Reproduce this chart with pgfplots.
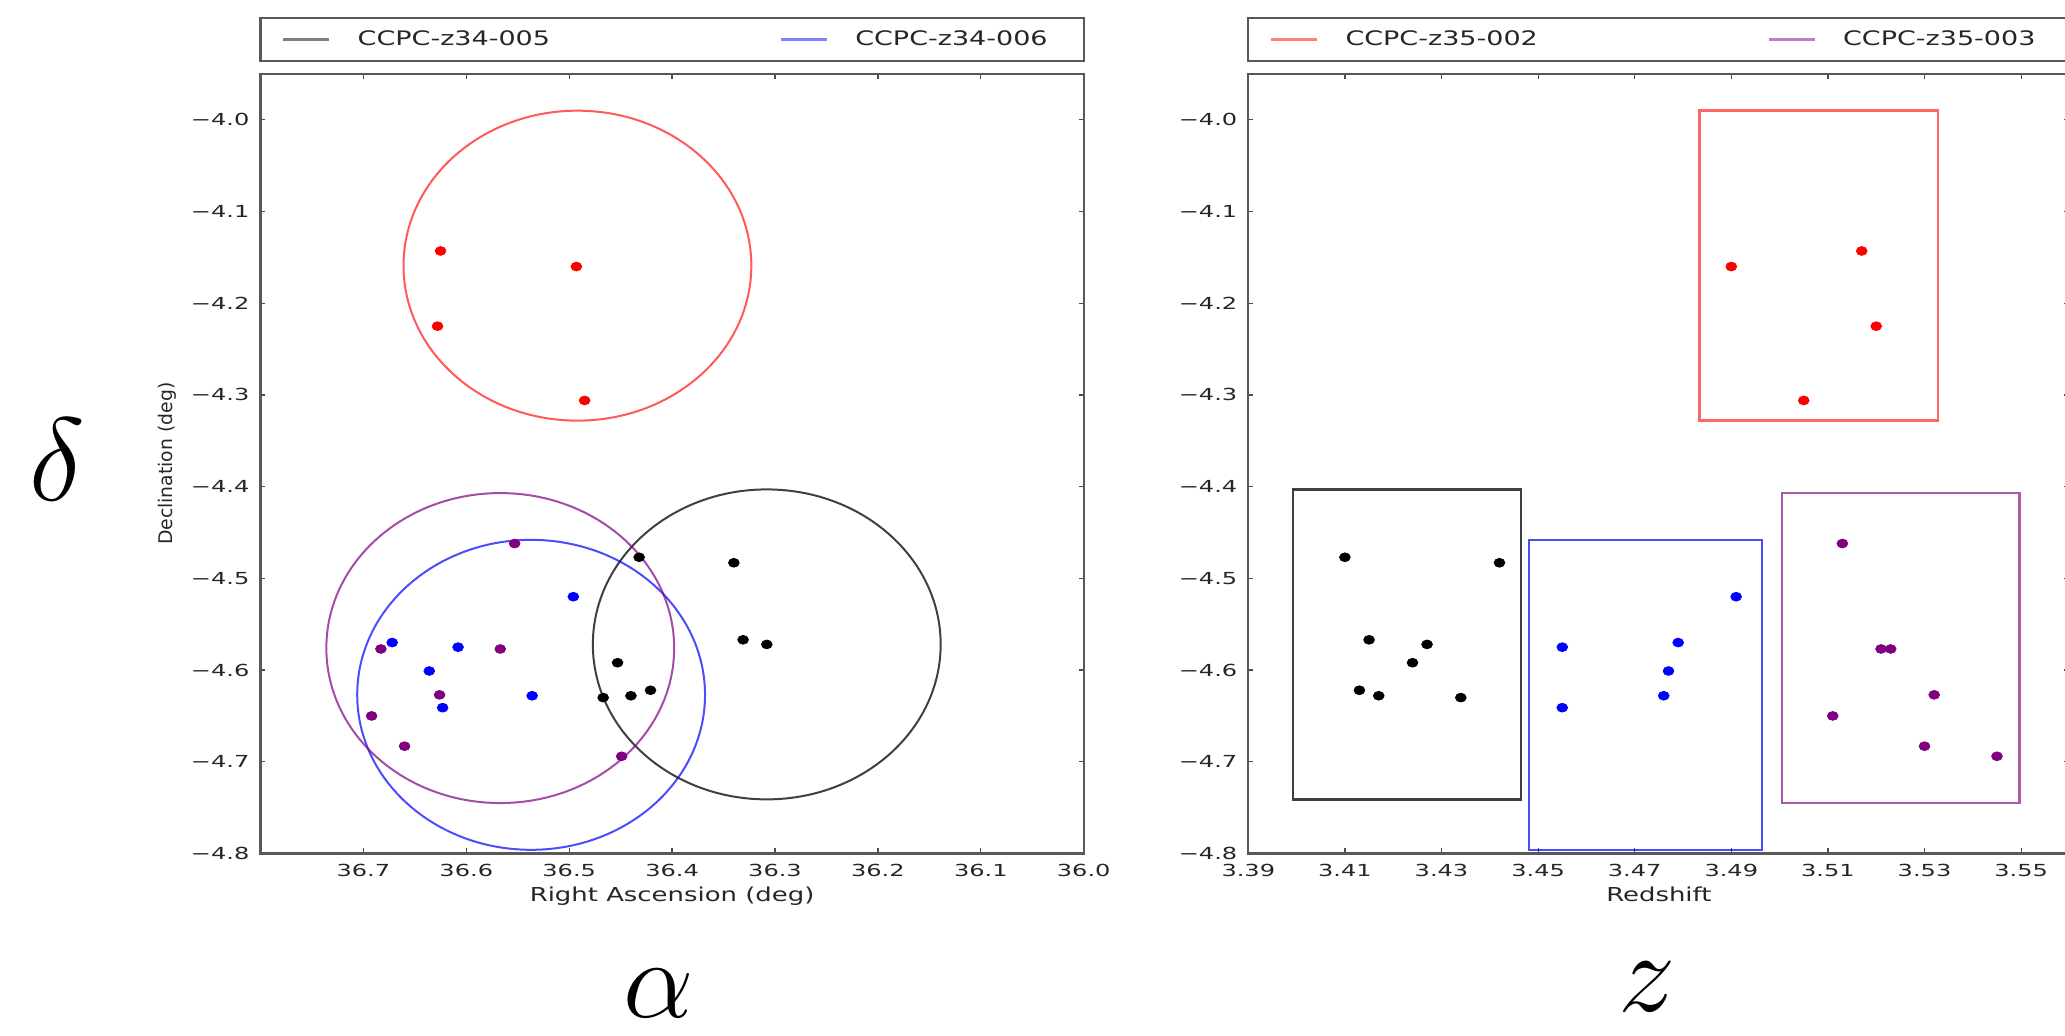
\documentclass[border=0pt]{standalone}
\usepackage{pgfplots}
\pgfplotsset{compat=1.18}
\usepackage{pgfplotstable}
\usepackage{fontspec}
\setmainfont{DejaVu Sans}[FakeStretch=1.35]
\newfontfamily\plainsans{DejaVu Sans}
\newfontfamily\tickfont{DejaVu Sans}[FakeStretch=1.45]

\definecolor{mblue}{RGB}{0,0,255}
\definecolor{mred}{RGB}{255,0,0}
\definecolor{mpurple}{RGB}{128,0,128}

% columns: right ascension, declination, redshift
\pgfplotstableread{
ra dec z
36.432 -4.477 3.410
36.340 -4.483 3.442
36.331 -4.567 3.415
36.308 -4.572 3.427
36.453 -4.592 3.424
36.421 -4.622 3.413
36.440 -4.628 3.417
36.467 -4.630 3.434
}\blackpts
\pgfplotstableread{
ra dec z
36.496 -4.520 3.491
36.672 -4.570 3.479
36.608 -4.575 3.455
36.636 -4.601 3.477
36.536 -4.628 3.476
36.623 -4.641 3.455
}\bluepts
\pgfplotstableread{
ra dec z
36.553 -4.462 3.513
36.683 -4.577 3.521
36.567 -4.577 3.523
36.626 -4.627 3.532
36.692 -4.650 3.511
36.660 -4.683 3.530
36.449 -4.694 3.545
}\purplepts
\pgfplotstableread{
ra dec z
36.625 -4.143 3.517
36.493 -4.160 3.490
36.628 -4.225 3.520
36.485 -4.306 3.505
}\redpts

\pgfplotsset{
  ccpc/.style={
    scale only axis, width=411.6pt, height=389.75pt,
    ymin=-4.8, ymax=-3.95,
    ytick={-4.8,-4.7,-4.6,-4.5,-4.4,-4.3,-4.2,-4.1,-4.0},
    yticklabels={−4.8,−4.7,−4.6,−4.5,−4.4,−4.3,−4.2,−4.1,−4.0},
    tick align=inside, major tick length=2.5pt,
    major tick style={black!70, line width=0.6pt},
    axis line style={black!65, line width=1.1pt},
    tick label style={font=\tickfont\fontsize{8.3}{10}\selectfont, text=black!85},
    xticklabel style={yshift=-2pt},
    yticklabel style={xshift=-2pt},
    xlabel style={font=\fontsize{9.6}{11}\selectfont, text=black!85,
      at={(axis description cs:0.5,0)}, anchor=base, yshift=-24.25pt},
    legend columns=2,
    legend style={draw=none, fill=none, at={(axis description cs:0,1.0443)},
      anchor=west, inner xsep=10.5pt, inner ysep=0pt,
      font=\fontsize{10}{12}\selectfont, text=black!85,
      nodes={inner sep=0pt}, cells={anchor=west},
      /tikz/every odd column/.append style={column sep=13.5pt},
      /tikz/every even column/.append style={column sep=114.7pt}},
    legend image code/.code={\draw[#1] (0pt,0pt) -- (23pt,0pt);},
  },
  pts/.style={only marks, mark=*, mark size=2.2pt, mark options={xscale=1.22}, forget plot},
}

\begin{document}
\begin{tikzpicture}
% ---------------- left panel: sky positions ----------------
\begin{axis}[ccpc, name=axL, at={(130.25pt,91.25pt)}, anchor=south west,
  xmin=36.0, xmax=36.8, x dir=reverse,
  xtick={36.0,36.1,36.2,36.3,36.4,36.5,36.6,36.7},
  xticklabels={36.0,36.1,36.2,36.3,36.4,36.5,36.6,36.7},
  xlabel={Right Ascension (deg)},
  ylabel={{\plainsans Declination (deg)}},
  ylabel style={font=\fontsize{9.4}{11}\selectfont, text=black!85,
    at={(axis description cs:-0.1136,0.5)}, anchor=center},
]
\addlegendimage{black, opacity=0.5, line width=1.4pt}
\addlegendentry{CCPC-z34-005}
\addlegendimage{mblue, opacity=0.5, line width=1.4pt}
\addlegendentry{CCPC-z34-006}

\draw[black, opacity=0.75, line width=1pt] (axis cs:36.308,-4.572) ellipse [x radius=0.169, y radius=0.169];
\draw[mblue, opacity=0.7, line width=1pt] (axis cs:36.537,-4.627) ellipse [x radius=0.169, y radius=0.169];
\draw[mred, opacity=0.65, line width=1pt] (axis cs:36.492,-4.159) ellipse [x radius=0.169, y radius=0.169];
\draw[mpurple, opacity=0.7, line width=1pt] (axis cs:36.567,-4.576) ellipse [x radius=0.169, y radius=0.169];

\addplot[pts, black] table[x=ra, y=dec] {\blackpts};
\addplot[pts, mblue] table[x=ra, y=dec] {\bluepts};
\addplot[pts, mred] table[x=ra, y=dec] {\redpts};
\addplot[pts, mpurple] table[x=ra, y=dec] {\purplepts};
\end{axis}

% ---------------- right panel: redshift ----------------
\begin{axis}[ccpc, name=axR, at={(624.15pt,91.25pt)}, anchor=south west,
  width=410.55pt,
  xmin=3.39, xmax=3.56,
  xtick={3.39,3.41,3.43,3.45,3.47,3.49,3.51,3.53,3.55},
  xticklabels={3.39,3.41,3.43,3.45,3.47,3.49,3.51,3.53,3.55},
  xlabel={Redshift},
]
\addlegendimage{mred, opacity=0.5, line width=1.4pt}
\addlegendentry{CCPC-z35-002}
\addlegendimage{mpurple, opacity=0.5, line width=1.4pt}
\addlegendentry{CCPC-z35-003}

\draw[black, opacity=0.75, line width=1.2pt] (axis cs:3.3992,-4.741) rectangle (axis cs:3.4465,-4.403);
\draw[mblue, opacity=0.7, line width=1.2pt] (axis cs:3.4481,-4.796) rectangle (axis cs:3.4963,-4.458);
\draw[mpurple, opacity=0.65, line width=1.2pt] (axis cs:3.5005,-4.745) rectangle (axis cs:3.5497,-4.407);
\draw[mred, opacity=0.6, line width=1.2pt] (axis cs:3.4834,-4.328) rectangle (axis cs:3.5328,-3.990);

\addplot[pts, black] table[x=z, y=dec] {\blackpts};
\addplot[pts, mblue] table[x=z, y=dec] {\bluepts};
\addplot[pts, mred] table[x=z, y=dec] {\redpts};
\addplot[pts, mpurple] table[x=z, y=dec] {\purplepts};
\end{axis}

% legend frames
\draw[black!65, line width=1.1pt] ([yshift=6.5pt]axL.north west) rectangle ([yshift=28pt]axL.north east);
\draw[black!65, line width=1.1pt] ([yshift=6.5pt]axR.north west) rectangle ([yshift=28pt]axR.north east);

% big symbols
\node[scale=2.37, inner sep=0pt] at (28.5pt,288pt) {\Huge$\delta$};
\node[scale=2.25, inner sep=0pt] at (329.5pt,21.5pt) {\Huge$\alpha$};
\node[scale=2.3, inner sep=0pt] at (823.5pt,24.5pt) {\Huge$z$};

\pgfresetboundingbox
\path (0pt,0pt) rectangle (1032.5pt,518pt);
\end{tikzpicture}
\end{document}
